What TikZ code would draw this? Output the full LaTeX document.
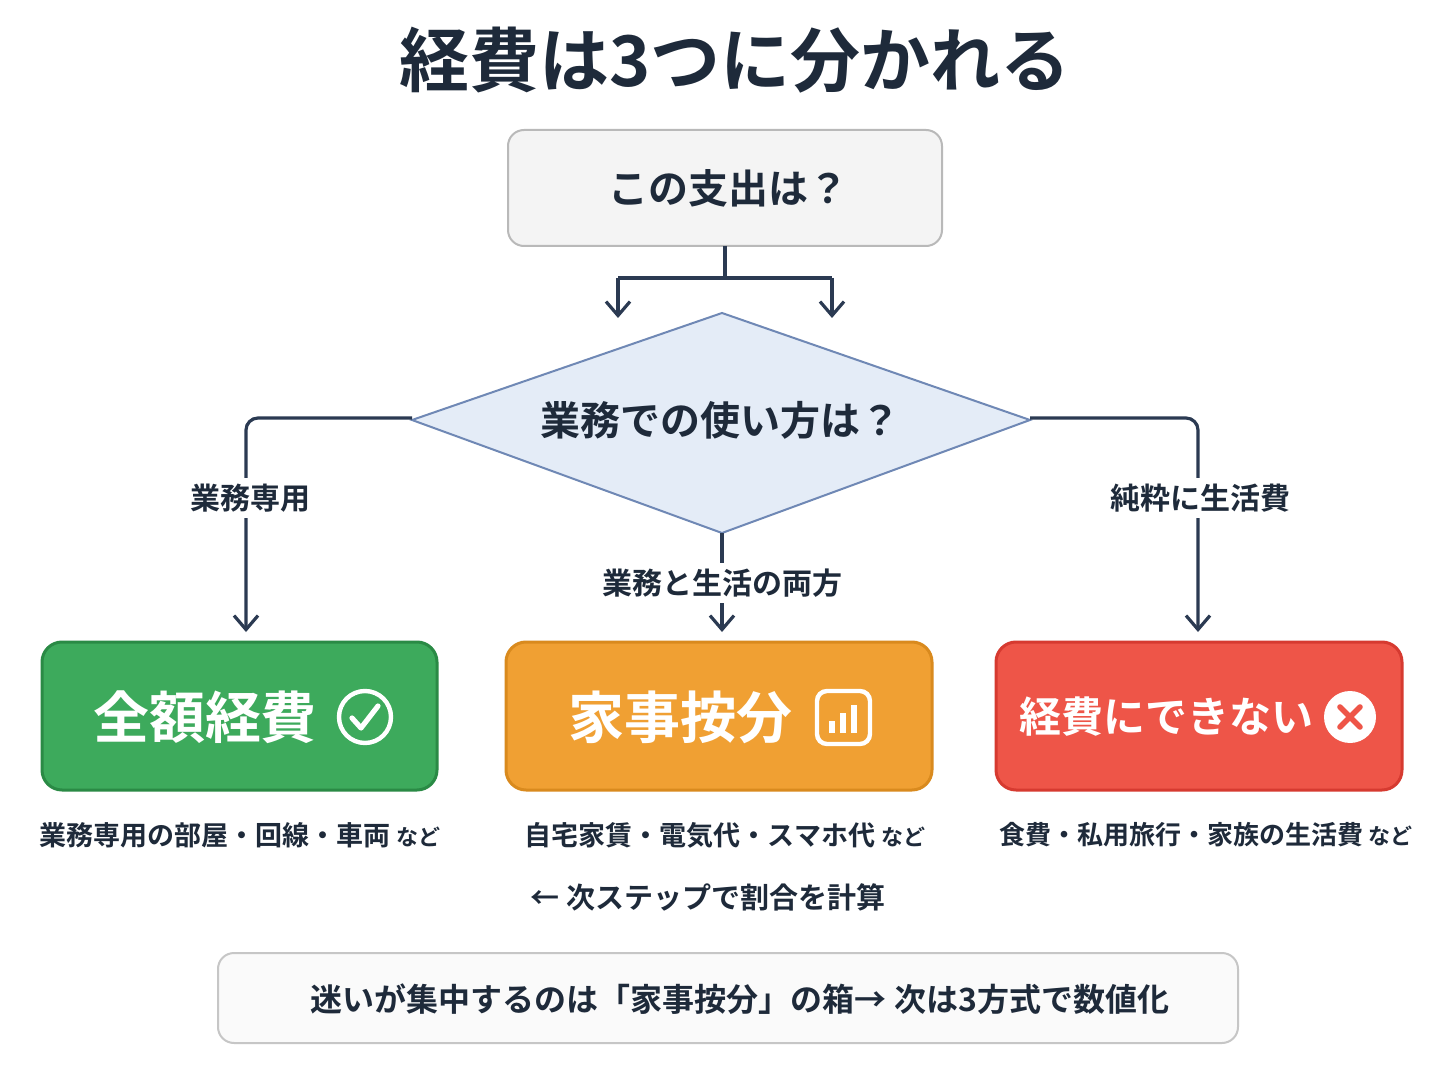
\documentclass[tikz,border=0pt]{standalone}
\usepackage{fontspec}
\setmainfont{Noto Sans CJK JP}[BoldFont={* Bold}]
\newfontfamily\jp{Noto Sans CJK JP Bold}
\usetikzlibrary{shapes.geometric,arrows.meta}
\definecolor{ink}{HTML}{1E2A3A}
\definecolor{lnk}{HTML}{2B3A52}
\definecolor{dfill}{HTML}{E4ECF7}\definecolor{ddraw}{HTML}{6F88B5}
\definecolor{gfill}{HTML}{3DAA5C}\definecolor{gdraw}{HTML}{2A8A45}
\definecolor{ofill}{HTML}{F0A033}\definecolor{odraw}{HTML}{D98A1E}
\definecolor{rfill}{HTML}{EE5548}\definecolor{rdraw}{HTML}{D63A30}
\begin{document}
\begin{tikzpicture}[x=0.5pt,y=-0.5pt,
  conn/.style={draw=lnk,line width=1.6pt},
  arr/.style={conn,-{Straight Barb[length=7pt,width=12pt]}},
  lbl/.style={font=\jp\fontsize{15}{18}\selectfont,text=ink},
  captxt/.style={font=\jp\fontsize{13.5}{16}\selectfont,text=ink},
  bigtxt/.style={font=\jp\fontsize{28}{32}\selectfont,text=white}]
\useasboundingbox[fill=white] (0,0) rectangle (1448,1086);
\node[font=\jp\fontsize{35}{40}\selectfont,text=ink] (title) at (735,60) {経費は3つに分かれる};
\draw[rounded corners=8pt,fill=gray!9,draw=gray!55,line width=1pt] (508,130) rectangle (942,246);
\node[font=\jp\fontsize{20}{24}\selectfont,text=ink] (q) at (728,188) {この支出は？};
\coordinate (qb) at (725,246);
\coordinate (j) at (725,278);
\coordinate (jl) at (618,278);\coordinate (jr) at (832,278);
\draw[conn] (qb) -- (j);
\draw[conn] (jl) -- (jr);
\draw[arr] (jl) -- (618,318);
\draw[arr] (jr) -- (832,318);
\draw[fill=dfill,draw=ddraw,line width=1pt] (412,420) -- (722,313) -- (1030,420) -- (722,533) -- cycle;
\node[font=\jp\fontsize{20}{24}\selectfont,text=ink] (d) at (720,420) {業務での使い方は？};
\draw[arr,rounded corners=6pt] (412,418) -- (246,418) -- (246,632);
\draw[arr,rounded corners=6pt] (1030,418) -- (1198,418) -- (1198,632);
\draw[arr] (722,533) -- (722,632);
\node[lbl,fill=white,inner sep=3pt] at (250,498) {業務専用};
\node[lbl,fill=white,inner sep=3pt] at (1200,498) {純粋に生活費};
\node[lbl,fill=white,inner sep=3pt] at (722,583) {業務と生活の両方};
\draw[rounded corners=10pt,fill=gfill,draw=gdraw,line width=1.5pt] (42,642) rectangle (437,790);
\node[bigtxt] (g) at (205,717) {全額経費};
\draw[white,line width=2.2pt] (365,717) circle (26);
\draw[white,line width=2.6pt,line cap=round,line join=round] (352,718) -- (361,728) -- (378,706);
\draw[rounded corners=10pt,fill=ofill,draw=odraw,line width=1.5pt] (506,642) rectangle (932,790);
\node[bigtxt] (o) at (680,717) {家事按分};
\draw[white,line width=2.2pt,rounded corners=5pt] (817,691) rectangle (870,744);
\foreach \x/\h in {832/12,843/20,854/28}{\fill[white] (\x-3,733) rectangle (\x+3,733-\h);}
\draw[rounded corners=10pt,fill=rfill,draw=rdraw,line width=1.5pt] (996,642) rectangle (1402,790);
\node[bigtxt,font=\jp\fontsize{21}{26}\selectfont] (r) at (1166,717) {経費にできない};
\fill[white] (1350,717) circle (26);
\draw[rfill,line width=2.8pt,line cap=round] (1340,707) -- (1360,727) (1340,727) -- (1360,707);
\node[captxt] at (240,835) {業務専用の部屋・回線・車両 {\fontsize{11}{13}\selectfont など}};
\node[captxt] at (725,835) {自宅家賃・電気代・スマホ代 {\fontsize{11}{13}\selectfont など}};
\node[captxt,font=\jp\fontsize{13}{16}\selectfont] at (1206,835) {食費・私用旅行・家族の生活費 {\fontsize{11}{13}\selectfont など}};
\node[captxt,font=\jp\fontsize{14.5}{17}\selectfont] at (708,897) {← 次ステップで割合を計算};
\draw[rounded corners=8pt,fill=gray!4,draw=gray!45,line width=1pt] (218,953) rectangle (1238,1043);
\node[captxt,font=\jp\fontsize{16}{19}\selectfont] at (740,999) {迷いが集中するのは「家事按分」の箱→ 次は3方式で数値化};
\end{tikzpicture}
\end{document}
